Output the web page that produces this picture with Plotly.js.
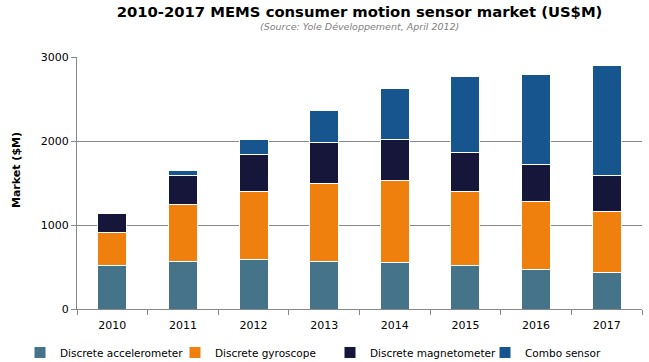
<!DOCTYPE html>
<html>
<head>
<meta charset="utf-8">
<script src="https://cdn.plot.ly/plotly-3.0.1.min.js"></script>
<style>html,body{margin:0;padding:0;background:#fff;}#chart{width:649px;height:362px;}</style>
</head>
<body>
<div id="chart"></div>
<script>
var years = ['2010','2011','2012','2013','2014','2015','2016','2017'];
var accelerometer = [520, 563, 587, 563, 548, 512, 476, 433];
var gyroscope     = [389, 683, 810, 937, 976, 881, 802, 722];
var magnetometer  = [226, 349, 440, 480, 488, 476, 448, 436];
var combo         = [16, 56, 183, 381, 611, 897, 1068, 1310];
var seriesNames = ['Discrete accelerometer','Discrete gyroscope','Discrete magnetometer','Combo sensor'];
var seriesColors = ['#45738A','#F0800E','#16163A','#17558E'];
var seriesValues = [accelerometer, gyroscope, magnetometer, combo];
var titleText = '2010-2017 MEMS consumer motion sensor market (US$M)';
var subtitleText = '(Source: Yole Développement, April 2012)';
var yTitleText = 'Market ($M)';

var font = 'Verdana, "DejaVu Sans", sans-serif';
var traces = seriesValues.map(function(v,i){
  return {type:'bar', x:years, y:v, name:seriesNames[i],
    marker:{color:seriesColors[i], line:{color:'#ffffff', width:1}}};
});

var layout = {
  width:649, height:362,
  barmode:'stack', bargap:0.59,
  paper_bgcolor:'#fff', plot_bgcolor:'#fff',
  margin:{l:77, r:7, t:57, b:53, autoexpand:false},
  font:{family:font, color:'#000', size:11},
  title:{text:'<b>' + titleText + '</b>',
    x:0.5, xanchor:'center', xref:'paper', y:0.982, yref:'container', yanchor:'top',
    font:{size:14.8, family:font, color:'#000'}},
  xaxis:{type:'category', showline:true, linecolor:'#888', linewidth:1,
    ticks:'outside', tickson:'boundaries', ticklen:5, tickcolor:'#888',
    ticklabelstandoff:6, tickfont:{size:11}, showgrid:false},
  yaxis:{range:[0,3000], dtick:1000, showline:true, linecolor:'#888', linewidth:1,
    ticks:'outside', ticklen:5, tickcolor:'#888', gridcolor:'#888', gridwidth:1,
    zeroline:false, tickfont:{size:11}},
  annotations:[
    {text:'<i>' + subtitleText + '</i>', xref:'paper', yref:'paper', x:0.5, y:(309-26)/252,
     xanchor:'center', yanchor:'middle', showarrow:false, font:{size:9.5, color:'#808080', family:font}},
    {text:'<b>' + yTitleText + '</b>', xref:'paper', yref:'paper', x:(16-77)/565, y:(309-170)/252,
     xanchor:'center', yanchor:'middle', textangle:-90, showarrow:false, font:{size:11, color:'#000', family:font}}
  ],
  legend:{orientation:'h', x:(20-77)/565, xref:'paper', xanchor:'left', y:-0.115, yanchor:'top',
    font:{size:10.5}, itemwidth:30, traceorder:'normal', itemclick:false,
    entrywidth:110, entrywidthmode:'pixels'},
  showlegend:true
};
Plotly.newPlot('chart', traces, layout, {displayModeBar:false, staticPlot:true});
</script>
</body>
</html>
